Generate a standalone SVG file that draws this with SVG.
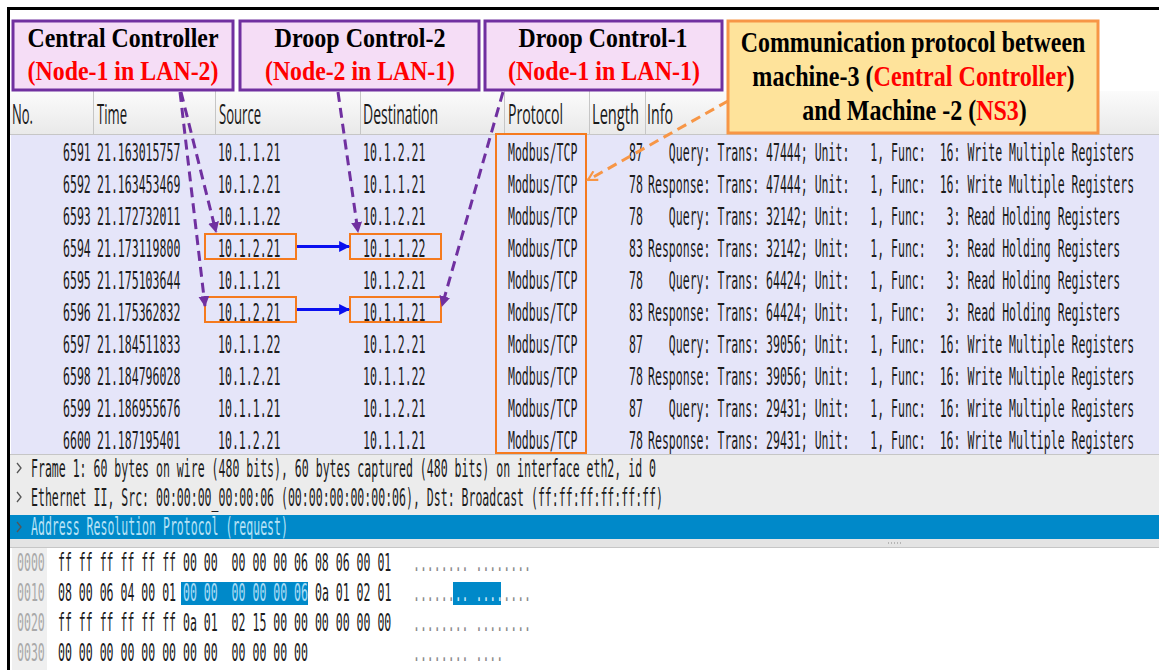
<svg xmlns="http://www.w3.org/2000/svg" width="1159" height="670" viewBox="0 0 1159 670">
  <style>
    .mono { font-family: "DejaVu Sans Mono", "Liberation Mono", monospace; font-size: 25.1px; fill: #1c1c1c; }
    .off { fill: #a9a9a9; }
    .dots { fill: #8a8a8a; }
    .hdr { font-family: "Open Sans", "Noto Sans", sans-serif; font-size: 27px; fill: #1a1a1a; }
    .title { font-family: "Liberation Serif", "Times New Roman", serif; font-weight: bold; font-size: 28px; text-anchor: middle; fill: #000; }
    .big { font-size: 29px; }
    .red { fill: #ff0000; }
    .callout { fill: #f5ddf6; stroke: #7030a0; stroke-width: 3; }
    .note { fill: #fee39b; stroke: #f79646; stroke-width: 3; }
    .hl { fill: none; stroke: #f57a1e; stroke-width: 2; }
    .sep { stroke: #c6c6c6; stroke-width: 1; }
    .lead { fill: none; stroke: #7030a0; stroke-width: 3; stroke-dasharray: 10 6; marker-end: url(#headPurple); }
    .lead-o { fill: none; stroke: #f79646; stroke-width: 3; stroke-dasharray: 10 6; marker-end: url(#headOrange); }
    .flow { fill: none; stroke: #0a10f0; stroke-width: 3; marker-end: url(#headBlue); }
    .chev { fill: none; stroke: #555; stroke-width: 1.3; }
  </style>
  <defs>
    <linearGradient id="hdrGrad" x1="0" y1="0" x2="0" y2="1">
      <stop offset="0" stop-color="#fbfbfb"/>
      <stop offset="1" stop-color="#e9e9e9"/>
    </linearGradient>
    <marker id="headPurple" viewBox="0 0 10 10" refX="9" refY="5" markerWidth="11" markerHeight="11" markerUnits="userSpaceOnUse" orient="auto">
      <path d="M0,0 L10,5 L0,10 z" fill="#7030a0"/>
    </marker>
    <marker id="headBlue" viewBox="0 0 10 10" refX="9" refY="5" markerWidth="11" markerHeight="11" markerUnits="userSpaceOnUse" orient="auto">
      <path d="M0,0 L10,5 L0,10 z" fill="#0a10f0"/>
    </marker>
    <marker id="headOrange" viewBox="0 0 12 12" refX="10" refY="6" markerWidth="12" markerHeight="12" markerUnits="userSpaceOnUse" orient="auto">
      <path d="M1,1 L10,6 L1,11" fill="none" stroke="#f79646" stroke-width="2.2"/>
    </marker>
  </defs>

  <!-- page -->
  <rect x="0" y="0" width="1159" height="670" fill="#ffffff"/>

  <!-- packet list header -->
  <g id="packet-list-header">
    <rect x="10" y="91" width="1149" height="44" fill="url(#hdrGrad)"/>
    <line class="sep" x1="10" y1="134.5" x2="1159" y2="134.5"/>
    <line class="sep" x1="93.5" y1="91" x2="93.5" y2="134"/>
    <line class="sep" x1="215.5" y1="91" x2="215.5" y2="134"/>
    <line class="sep" x1="360.5" y1="91" x2="360.5" y2="134"/>
    <line class="sep" x1="504.5" y1="91" x2="504.5" y2="134"/>
    <line class="sep" x1="589.5" y1="91" x2="589.5" y2="134"/>
    <line class="sep" x1="645.5" y1="91" x2="645.5" y2="134"/>
    <!-- column titles drawn at half width -->
    <g class="hdr" transform="scale(0.5 1)">
      <text x="24" y="124" textLength="42" lengthAdjust="spacingAndGlyphs">No.</text>
      <text x="194" y="124" textLength="60" lengthAdjust="spacingAndGlyphs">Time</text>
      <text x="438" y="124" textLength="84" lengthAdjust="spacingAndGlyphs">Source</text>
      <text x="726" y="124" textLength="150" lengthAdjust="spacingAndGlyphs">Destination</text>
      <text x="1016" y="124" textLength="110" lengthAdjust="spacingAndGlyphs">Protocol</text>
      <text x="1184" y="124" textLength="94" lengthAdjust="spacingAndGlyphs">Length</text>
      <text x="1294" y="124" textLength="52" lengthAdjust="spacingAndGlyphs">Info</text>
    </g>
  </g>

  <!-- packet list rows (Modbus/TCP colouring); runs of spaces kept as no-break spaces -->
  <g id="packet-list">
    <rect x="11" y="135" width="1148" height="319" fill="#e5e5f9"/>
    <g class="mono" transform="scale(0.46 1)">
      <text x="137" y="161">6591</text><text x="210.9" y="161">21.163015757</text><text x="473.9" y="161">10.1.1.21</text><text x="789.1" y="161">10.1.2.21</text><text x="1104.3" y="161">Modbus/TCP</text><text x="1367.4" y="161">87</text><text x="1408.7" y="161">&#160;&#160;&#160;Query: Trans: 47444; Unit:&#160;&#160;&#160;1, Func:&#160;&#160;16: Write Multiple Registers</text>
      <text x="137" y="193">6592</text><text x="210.9" y="193">21.163453469</text><text x="473.9" y="193">10.1.2.21</text><text x="789.1" y="193">10.1.1.21</text><text x="1104.3" y="193">Modbus/TCP</text><text x="1367.4" y="193">78</text><text x="1408.7" y="193">Response: Trans: 47444; Unit:&#160;&#160;&#160;1, Func:&#160;&#160;16: Write Multiple Registers</text>
      <text x="137" y="225">6593</text><text x="210.9" y="225">21.172732011</text><text x="473.9" y="225">10.1.1.22</text><text x="789.1" y="225">10.1.2.21</text><text x="1104.3" y="225">Modbus/TCP</text><text x="1367.4" y="225">78</text><text x="1408.7" y="225">&#160;&#160;&#160;Query: Trans: 32142; Unit:&#160;&#160;&#160;1, Func:&#160;&#160;&#160;3: Read Holding Registers</text>
      <text x="137" y="257">6594</text><text x="210.9" y="257">21.173119800</text><text x="473.9" y="257">10.1.2.21</text><text x="789.1" y="257">10.1.1.22</text><text x="1104.3" y="257">Modbus/TCP</text><text x="1367.4" y="257">83</text><text x="1408.7" y="257">Response: Trans: 32142; Unit:&#160;&#160;&#160;1, Func:&#160;&#160;&#160;3: Read Holding Registers</text>
      <text x="137" y="289">6595</text><text x="210.9" y="289">21.175103644</text><text x="473.9" y="289">10.1.1.21</text><text x="789.1" y="289">10.1.2.21</text><text x="1104.3" y="289">Modbus/TCP</text><text x="1367.4" y="289">78</text><text x="1408.7" y="289">&#160;&#160;&#160;Query: Trans: 64424; Unit:&#160;&#160;&#160;1, Func:&#160;&#160;&#160;3: Read Holding Registers</text>
      <text x="137" y="321">6596</text><text x="210.9" y="321">21.175362832</text><text x="473.9" y="321">10.1.2.21</text><text x="789.1" y="321">10.1.1.21</text><text x="1104.3" y="321">Modbus/TCP</text><text x="1367.4" y="321">83</text><text x="1408.7" y="321">Response: Trans: 64424; Unit:&#160;&#160;&#160;1, Func:&#160;&#160;&#160;3: Read Holding Registers</text>
      <text x="137" y="353">6597</text><text x="210.9" y="353">21.184511833</text><text x="473.9" y="353">10.1.1.22</text><text x="789.1" y="353">10.1.2.21</text><text x="1104.3" y="353">Modbus/TCP</text><text x="1367.4" y="353">87</text><text x="1408.7" y="353">&#160;&#160;&#160;Query: Trans: 39056; Unit:&#160;&#160;&#160;1, Func:&#160;&#160;16: Write Multiple Registers</text>
      <text x="137" y="385">6598</text><text x="210.9" y="385">21.184796028</text><text x="473.9" y="385">10.1.2.21</text><text x="789.1" y="385">10.1.1.22</text><text x="1104.3" y="385">Modbus/TCP</text><text x="1367.4" y="385">78</text><text x="1408.7" y="385">Response: Trans: 39056; Unit:&#160;&#160;&#160;1, Func:&#160;&#160;16: Write Multiple Registers</text>
      <text x="137" y="417">6599</text><text x="210.9" y="417">21.186955676</text><text x="473.9" y="417">10.1.1.21</text><text x="789.1" y="417">10.1.2.21</text><text x="1104.3" y="417">Modbus/TCP</text><text x="1367.4" y="417">87</text><text x="1408.7" y="417">&#160;&#160;&#160;Query: Trans: 29431; Unit:&#160;&#160;&#160;1, Func:&#160;&#160;16: Write Multiple Registers</text>
      <text x="137" y="449">6600</text><text x="210.9" y="449">21.187195401</text><text x="473.9" y="449">10.1.2.21</text><text x="789.1" y="449">10.1.1.21</text><text x="1104.3" y="449">Modbus/TCP</text><text x="1367.4" y="449">78</text><text x="1408.7" y="449">Response: Trans: 29431; Unit:&#160;&#160;&#160;1, Func:&#160;&#160;16: Write Multiple Registers</text>
    </g>
  </g>

  <!-- packet details pane -->
  <g id="packet-details">
    <rect x="10" y="454" width="1149" height="94" fill="#ececec"/>
    <line class="sep" x1="10" y1="454.5" x2="1159" y2="454.5"/>
    <rect x="10" y="515" width="1149" height="24" fill="#0089c9"/>
    <path class="chev" d="M17,463 L21,468 L17,473"/>
    <path class="chev" d="M17,492 L21,497 L17,502"/>
    <path class="chev" d="M17,522 L21,527 L17,532" stroke="#cdeaf7"/>
    <g class="mono" transform="scale(0.46 1)">
      <text x="67.4" y="477">Frame 1: 60 bytes on wire (480 bits), 60 bytes captured (480 bits) on interface eth2, id 0</text>
      <text x="67.4" y="506">Ethernet II, Src: 00:00:00_00:00:06 (00:00:00:00:00:06), Dst: Broadcast (ff:ff:ff:ff:ff:ff)</text>
      <text x="67.4" y="535" fill="#b6e2f6">Address Resolution Protocol (request)</text>
    </g>
    <!-- splitter -->
    <rect x="10" y="539" width="1149" height="9" fill="#e4e4e4"/>
    <line class="sep" x1="10" y1="547.5" x2="1159" y2="547.5"/>
    <g fill="#b5b5b5">
      <rect x="888" y="542" width="1" height="2"/><rect x="891" y="542" width="1" height="2"/><rect x="894" y="542" width="1" height="2"/>
      <rect x="897" y="542" width="1" height="2"/><rect x="900" y="542" width="1" height="2"/>
    </g>
  </g>

  <!-- packet bytes pane -->
  <g id="packet-bytes">
    <rect x="10" y="548" width="1149" height="122" fill="#ffffff"/>
    <rect x="12" y="548" width="35" height="122" fill="#efefef"/>
    <rect x="181" y="582" width="127" height="23" fill="#0089c9"/>
    <rect x="453" y="582" width="48" height="23" fill="#0089c9"/>
    <g class="mono" transform="scale(0.46 1)">
      <text class="off" x="37" y="571">0000</text>
      <text x="126.1" y="571">ff ff ff ff ff ff 00 00&#160;&#160;00 00 00 06 08 06 00 01</text>
      <text class="dots" x="897.8" y="571">........ ........</text>
      <text class="off" x="37" y="601">0010</text>
      <text x="126.1" y="601">08 00 06 04 00 01 <tspan fill="#a9dcf5">00 00&#160;&#160;00 00 00 06</tspan> 0a 01 02 01</text>
      <text class="dots" x="897.8" y="601">......<tspan fill="#cfeaf8">.. ....</tspan>....</text>
      <text class="off" x="37" y="631">0020</text>
      <text x="126.1" y="631">ff ff ff ff ff ff 0a 01&#160;&#160;02 15 00 00 00 00 00 00</text>
      <text class="dots" x="897.8" y="631">........ ........</text>
      <text class="off" x="37" y="661">0030</text>
      <text x="126.1" y="661">00 00 00 00 00 00 00 00&#160;&#160;00 00 00 00</text>
      <text class="dots" x="897.8" y="661">........ ....</text>
    </g>
  </g>

  <!-- outer frame -->
  <rect x="8.5" y="8.5" width="1170" height="680" fill="none" stroke="#000" stroke-width="3"/>

  <!-- highlighted cells -->
  <g id="hl-src-6594"><rect class="hl" x="205" y="234" width="91" height="25"/></g>
  <g id="hl-dst-6594"><rect class="hl" x="350" y="234" width="91" height="25"/></g>
  <g id="hl-src-6596"><rect class="hl" x="205" y="297" width="91" height="25"/></g>
  <g id="hl-dst-6596"><rect class="hl" x="350" y="297" width="91" height="25"/></g>
  <g id="hl-protocol"><rect class="hl" x="496" y="134" width="90" height="319"/></g>

  <!-- annotation: central controller -->
  <g id="central-controller">
    <rect class="callout" x="13" y="21" width="220" height="69"/>
    <text class="title" x="123" y="47" textLength="191" lengthAdjust="spacingAndGlyphs">Central Controller</text>
    <text class="title red" x="123" y="80" textLength="191" lengthAdjust="spacingAndGlyphs">(Node-1 in LAN-2)</text>
  </g>

  <!-- annotation: droop control 2 -->
  <g id="droop-control-2">
    <rect class="callout" x="240" y="21" width="239" height="69"/>
    <text class="title" x="360" y="47" textLength="171" lengthAdjust="spacingAndGlyphs">Droop Control-2</text>
    <text class="title red" x="360" y="80" textLength="190" lengthAdjust="spacingAndGlyphs">(Node-2 in LAN-1)</text>
  </g>

  <!-- annotation: droop control 1 -->
  <g id="droop-control-1">
    <rect class="callout" x="485" y="21" width="237" height="69"/>
    <text class="title" x="603" y="47" textLength="169" lengthAdjust="spacingAndGlyphs">Droop Control-1</text>
    <text class="title red" x="604" y="80" textLength="192" lengthAdjust="spacingAndGlyphs">(Node-1 in LAN-1)</text>
  </g>

  <!-- annotation: communication protocol (lines narrowed to the box) -->
  <g id="comm-protocol">
    <rect class="note" x="728" y="21" width="370" height="112"/>
    <text class="title big" transform="translate(913 52) scale(0.824 1)">Communication protocol between</text>
    <text class="title big" transform="translate(913.5 86) scale(0.832 1)">machine-3 (<tspan class="red">Central Controller</tspan>)</text>
    <text class="title big" transform="translate(914.5 120) scale(0.828 1)">and Machine -2 (<tspan class="red">NS3</tspan>)</text>
  </g>

  <!-- connectors -->
  <g id="connectors">
    <line class="lead" x1="181" y1="92" x2="216" y2="232"/>
    <line class="lead" x1="180" y1="92" x2="205" y2="306"/>
    <line class="lead" x1="338" y1="92" x2="358" y2="232"/>
    <line class="lead" x1="503" y1="92" x2="442" y2="306"/>
    <line class="lead-o" x1="728" y1="101" x2="588" y2="180"/>
    <line class="flow" x1="297" y1="246.5" x2="349" y2="246.5"/>
    <line class="flow" x1="297" y1="309.5" x2="349" y2="309.5"/>
  </g>
</svg>
